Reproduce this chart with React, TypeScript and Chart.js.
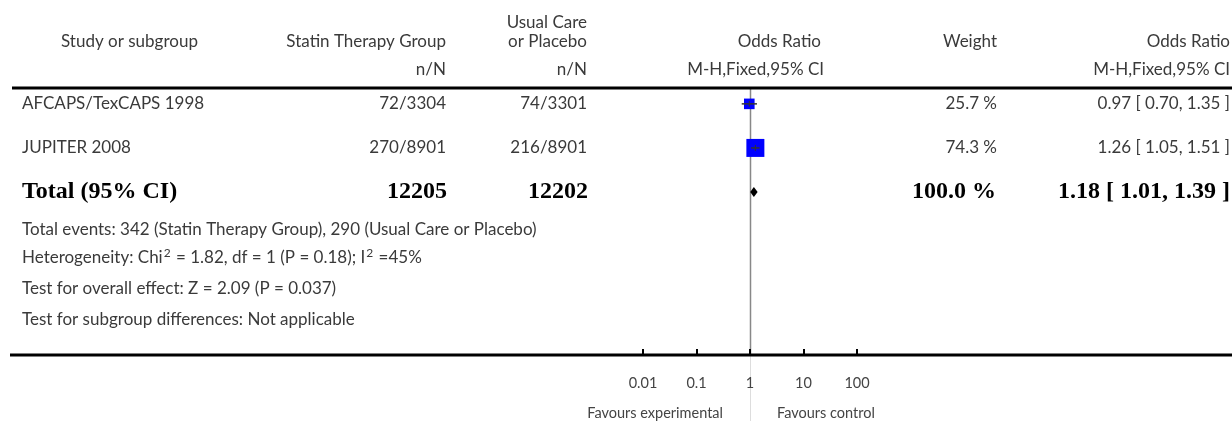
import React, { useEffect, useRef } from 'react';
import { Chart, registerables } from 'chart.js';

Chart.register(...registerables);

// ---- data ----
const studyNames = ['AFCAPS/TexCAPS 1998', 'JUPITER 2008'];
const expEvents = [72, 270];
const expTotals = [3304, 8901];
const ctrlEvents = [74, 216];
const ctrlTotals = [3301, 8901];
const weights = [25.7, 74.3];
const oddsRatios = [0.97, 1.26];
const ciLower = [0.70, 1.05];
const ciUpper = [1.35, 1.51];
const studyRows = [1, 2];

const totalLabel = 'Total (95% CI)';
const totalRow = 3;
const totalExpN = 12205;
const totalCtrlN = 12202;
const totalWeight = 100.0;
const totalOR = 1.18;
const totalLower = 1.01;
const totalUpper = 1.39;

// '^' marks the next character as a superscript
const footerLines = [
  'Total events: 342 (Statin Therapy Group), 290 (Usual Care or Placebo)',
  'Heterogeneity: Chi^2 = 1.82, df = 1 (P = 0.18); I^2 =45%',
  'Test for overall effect: Z = 2.09 (P = 0.037)',
  'Test for subgroup differences: Not applicable',
];

const tickValues = [0.01, 0.1, 1, 10, 100];
const tickLabels = ['0.01', '0.1', '1', '10', '100'];
const favoursLeft = 'Favours experimental';
const favoursRight = 'Favours control';

const SANS = 'Lato, "Open Sans", sans-serif';
const SERIF = '"Liberation Serif", "DejaVu Serif", serif';
const TEXT = '#3a3a3a';

const fmt2 = (v: number) => v.toFixed(2);
const sideFromWeight = (w: number) => 2.088 * Math.sqrt(w);

export default function App() {
  const ref = useRef<HTMLCanvasElement>(null);

  useEffect(() => {
    const canvas = ref.current;
    if (!canvas) return;

    const forestPlugin = {
      id: 'forest',
      beforeDatasetsDraw(chart: any) {
        const { ctx, chartArea } = chart;
        const xs = chart.scales.x;
        const x1 = Math.round(xs.getPixelForValue(1)) + 0.5;
        ctx.save();
        ctx.strokeStyle = '#888888';
        ctx.lineWidth = 1.5;
        ctx.beginPath();
        ctx.moveTo(x1, chartArea.top);
        ctx.lineTo(x1, chartArea.bottom);
        ctx.stroke();
        ctx.strokeStyle = '#dddddd';
        ctx.lineWidth = 1;
        ctx.beginPath();
        ctx.moveTo(x1, chartArea.bottom);
        ctx.lineTo(x1, chart.height);
        ctx.stroke();
        ctx.restore();
      },
      afterDatasetsDraw(chart: any) {
        const { ctx } = chart;
        const xs = chart.scales.x;
        const ys = chart.scales.y;
        ctx.save();
        ctx.strokeStyle = '#333333';
        for (let i = 0; i < studyRows.length; i++) {
          const y = ys.getPixelForValue(studyRows[i]);
          const xl = xs.getPixelForValue(ciLower[i]);
          const xh = xs.getPixelForValue(ciUpper[i]);
          const xm = xs.getPixelForValue(oddsRatios[i]);
          ctx.lineWidth = 1.5;
          ctx.beginPath();
          ctx.moveTo(xl, y);
          ctx.lineTo(xh, y);
          ctx.stroke();
          ctx.lineWidth = 1;
          ctx.beginPath();
          ctx.moveTo(xm, y - 3);
          ctx.lineTo(xm, y + 3);
          ctx.stroke();
        }
        const yd = ys.getPixelForValue(totalRow);
        const dl = xs.getPixelForValue(totalLower);
        const dh = xs.getPixelForValue(totalUpper);
        const dm = xs.getPixelForValue(totalOR);
        ctx.fillStyle = '#000000';
        ctx.beginPath();
        ctx.moveTo(dl, yd);
        ctx.lineTo(dm, yd - 5);
        ctx.lineTo(dh, yd);
        ctx.lineTo(dm, yd + 5);
        ctx.closePath();
        ctx.fill();
        ctx.restore();
      },
      afterDraw(chart: any) {
        const { ctx, chartArea } = chart;
        const xs = chart.scales.x;
        const ys = chart.scales.y;
        const W = chart.width;
        ctx.save();
        ctx.fillStyle = '#000000';
        ctx.fillRect(12, chartArea.top - 1.5, W - 12, 3);
        ctx.fillRect(10, chartArea.bottom - 1.5, W - 10, 3);
        for (const v of tickValues) {
          const x = xs.getPixelForValue(v);
          ctx.fillRect(Math.round(x) - 1, chartArea.bottom - 6, 2, 6);
        }

        const text = (s: string, x: number, y: number, align: CanvasTextAlign, font: string, color = TEXT) => {
          ctx.font = font;
          ctx.fillStyle = color;
          ctx.textAlign = align;
          ctx.textBaseline = 'middle';
          ctx.fillText(s, x, y);
        };
        const fMain = `400 17px ${SANS}`;
        const fSup = `400 12px ${SANS}`;
        const fSmall = `400 14.5px ${SANS}`;
        const fBold = `bold 24px ${SERIF}`;

        const richText = (s: string, x: number, y: number) => {
          ctx.fillStyle = TEXT;
          ctx.textAlign = 'left';
          ctx.textBaseline = 'middle';
          let cx = x;
          const parts = s.split('^');
          parts.forEach((p, idx) => {
            let rest = p;
            if (idx > 0 && p.length > 0) {
              ctx.font = fSup;
              const sup = p[0];
              ctx.fillText(sup, cx + 1, y - 5);
              cx += ctx.measureText(sup).width + 2;
              rest = p.slice(1);
            }
            ctx.font = fMain;
            ctx.fillText(rest, cx, y);
            cx += ctx.measureText(rest).width;
          });
        };

        text('Study or subgroup', 61, 42, 'left', fMain);
        text('Statin Therapy Group', 446, 42, 'right', fMain);
        text('Usual Care', 587, 23, 'right', fMain);
        text('or Placebo', 587, 42, 'right', fMain);
        text('n/N', 446, 70, 'right', fMain);
        text('n/N', 587, 70, 'right', fMain);
        text('Odds Ratio', 821, 42, 'right', fMain);
        text('M-H,Fixed,95% CI', 824, 70, 'right', fMain);
        text('Weight', 997, 42, 'right', fMain);
        text('Odds Ratio', 1230, 42, 'right', fMain);
        text('M-H,Fixed,95% CI', 1230, 70, 'right', fMain);

        for (let i = 0; i < studyNames.length; i++) {
          const y = ys.getPixelForValue(studyRows[i]);
          text(studyNames[i], 22, y, 'left', fMain);
          text(`${expEvents[i]}/${expTotals[i]}`, 446, y, 'right', fMain);
          text(`${ctrlEvents[i]}/${ctrlTotals[i]}`, 587, y, 'right', fMain);
          text(`${weights[i].toFixed(1)} %`, 997, y, 'right', fMain);
          text(`${fmt2(oddsRatios[i])} [ ${fmt2(ciLower[i])}, ${fmt2(ciUpper[i])} ]`, 1230, y, 'right', fMain);
        }

        const yt = ys.getPixelForValue(totalRow);
        text(totalLabel, 22, yt, 'left', fBold, '#000');
        text(String(totalExpN), 447, yt, 'right', fBold, '#000');
        text(String(totalCtrlN), 588, yt, 'right', fBold, '#000');
        text(`${totalWeight.toFixed(1)} %`, 996, yt, 'right', fBold, '#000');
        text(`${fmt2(totalOR)} [ ${fmt2(totalLower)}, ${fmt2(totalUpper)} ]`, 1230, yt, 'right', fBold, '#000');

        const footerY = [230, 258, 289, 320];
        footerLines.forEach((s, i) => richText(s, 22, footerY[i]));

        tickValues.forEach((v, i) => {
          text(tickLabels[i], xs.getPixelForValue(v), 383, 'center', fSmall, '#444');
        });
        const xc = xs.getPixelForValue(1);
        text(favoursLeft, xc - 27, 413, 'right', fSmall, '#444');
        text(favoursRight, xc + 27, 413, 'left', fSmall, '#444');
        ctx.restore();
      },
    };

    const radii = weights.map((w) => sideFromWeight(w) / (2 * Math.SQRT1_2));

    const chart = new Chart(canvas, {
      type: 'scatter',
      data: {
        datasets: [
          {
            data: oddsRatios.map((v, i) => ({ x: v, y: studyRows[i] })),
            pointStyle: 'rect',
            pointRadius: radii,
            pointHoverRadius: radii,
            backgroundColor: '#0000ff',
            borderWidth: 0,
          },
        ],
      },
      options: {
        animation: false,
        responsive: false,
        events: [],
        layout: { padding: { left: 643, right: 375, top: 88, bottom: 66 } },
        plugins: { legend: { display: false }, tooltip: { enabled: false } },
        scales: {
          x: { type: 'logarithmic', min: 0.01, max: 100, display: false },
          y: { type: 'linear', min: 0.64, max: 6.7, reverse: true, display: false },
        },
      },
      plugins: [forestPlugin],
    } as any);

    return () => chart.destroy();
  }, []);

  return (
    <div style={{ position: 'absolute', left: 0, top: 0, width: 1232, height: 421, background: '#fff' }}>
      <canvas ref={ref} width={1232} height={421} style={{ display: 'block' }} />
    </div>
  );
}
